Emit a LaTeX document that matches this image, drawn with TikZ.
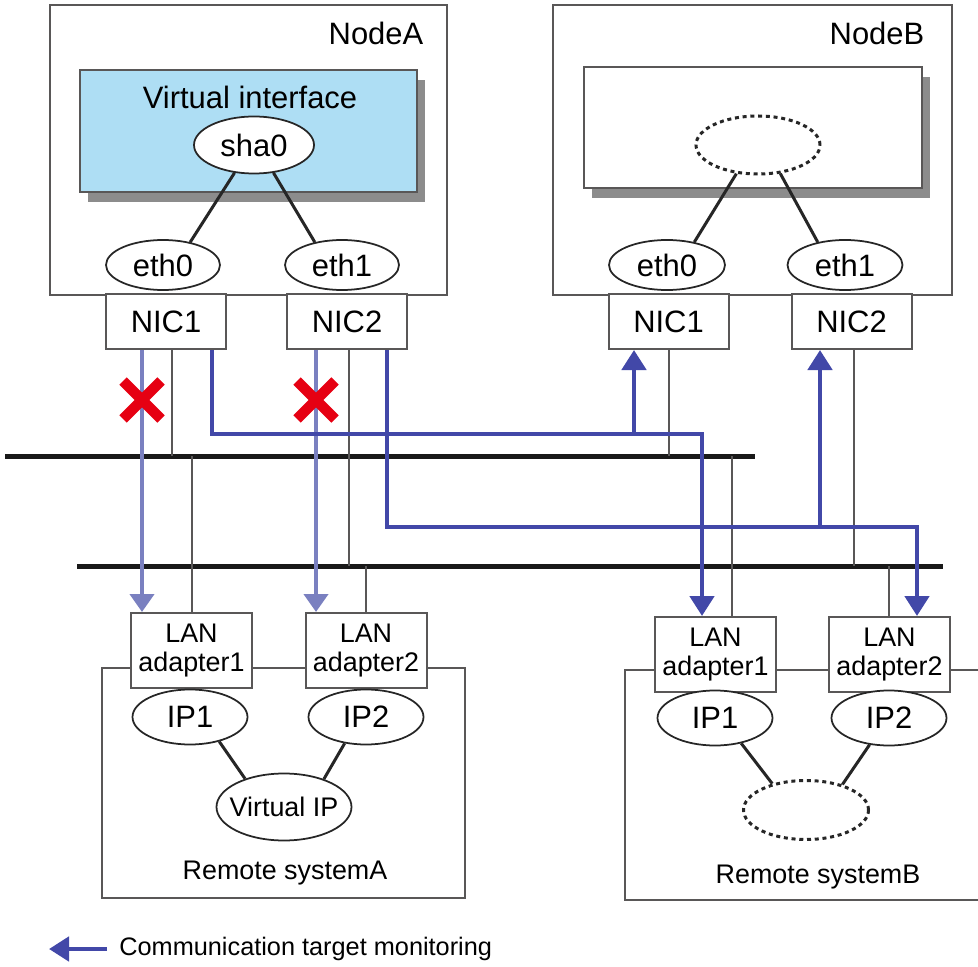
\documentclass[tikz,border=0pt]{standalone}
\usepackage{fontspec}
\setmainfont{Liberation Sans}
\usetikzlibrary{positioning,arrows.meta,shapes.geometric,shadows}

\definecolor{monblue}{RGB}{66,72,168}
\definecolor{failblue}{RGB}{122,128,192}
\definecolor{vifblue}{RGB}{174,222,244}
\definecolor{xred}{RGB}{230,0,18}
\definecolor{edge}{RGB}{89,87,87}

\begin{document}
\begin{tikzpicture}[x=0.2mm,y=-0.2mm,font=\fontsize{17.6}{19}\selectfont,
  box/.style={draw=edge,line width=0.4mm,fill=white,inner sep=0pt},
  shbox/.style={box,drop shadow={shadow xshift=1.6mm,shadow yshift=-2mm,fill=black!45,opacity=1}},
  nic/.style={box,minimum width=24mm,minimum height=11mm},
  lan/.style={box,align=center,minimum width=24.2mm,minimum height=15mm,font=\fontsize{15.3}{16}\selectfont},
  ifc/.style={ellipse,draw=black!85,line width=0.35mm,fill=white,inner sep=0pt,minimum width=23mm,minimum height=10mm},
  vif/.style={ifc,dash pattern=on 0.8mm off 0.75mm,line width=0.6mm},
  small/.style={font=\fontsize{15.3}{16}\selectfont},
  link/.style={draw=black!85,line width=0.6mm},
  bus/.style={draw=black!90,line width=1mm},
  drop/.style={draw=edge,line width=0.4mm},
  mon/.style={draw=monblue,line width=0.95mm,-{Triangle[width=4.8mm,length=4mm]}},
  fail/.style={draw=failblue,line width=0.85mm,-{Triangle[width=4.8mm,length=3.6mm]}},
  xmark/.style={draw=xred,line width=2.1mm}]
\useasboundingbox (0,0) rectangle (978,967);

% nodes
\node[box,minimum width=79.4mm,minimum height=58mm] (nodeA) at (248.5,150) {};
\node[box,minimum width=79.8mm,minimum height=58mm] (nodeB) at (752.5,150) {};
\node (nodeAl) at (376,33) {NodeA};
\node (nodeBl) at (877,33) {NodeB};
\node[shbox,fill=vifblue,minimum width=67.4mm,minimum height=24.4mm] (vifA) at (248.5,131) {};
\node[shbox,minimum width=67.6mm,minimum height=24.2mm] (vifB) at (753,127.5) {};
\node (vifAl) at (250,97) {Virtual interface};
\node[ifc,minimum width=24mm,minimum height=11.4mm] (sha0) at (254,145) {sha0};
\node[vif,minimum width=24.8mm,minimum height=11.6mm] (shaB) at (758,145) {};
\node[ifc,minimum width=22.8mm] (ethA0) at (163,265) {eth0};
\node[ifc,minimum width=22.8mm] (ethA1) at (342,265) {eth1};
\node[ifc,minimum width=23.2mm] (ethB0) at (667,265) {eth0};
\node[ifc,minimum width=23mm] (ethB1) at (845,265) {eth1};
\node[nic] (nicA1) at (166,321.5) {NIC1};
\node[nic] (nicA2) at (347,321.5) {NIC2};
\node[nic] (nicB1) at (668.5,321.5) {NIC1};
\node[nic] (nicB2) at (851.5,321.5) {NIC2};
\draw[link] (sha0.235) -- (ethA0.40);
\draw[link] (sha0.305) -- (ethA1.140);
\draw[link] (shaB.233) -- (ethB0.40);
\draw[link] (shaB.308) -- (ethB1.140);

% networks
\coordinate (busU) at (5,456);  \coordinate (busUe) at (755,456);
\coordinate (busL) at (77,566); \coordinate (busLe) at (943,566);
\foreach \n/\x in {gA1/172,gA2/192,gA3/349,gA4/366,gB1/669,gB2/732,gB3/854,gB4/889,
                   f1/142,f2/316,m1/212,m2/634,m3/702,m4/387,m5/820,m6/917}
  \coordinate (\n) at (\x,0);
\coordinate (h1) at (0,434);
\coordinate (h2) at (0,527);
\coordinate (xy) at (0,400);
\draw[bus] (busU) -- (busUe);
\draw[bus] (busL) -- (busLe);

% remote systems
\node[box,fill=none,minimum width=72.6mm,minimum height=46mm] (remA) at (283.5,783) {};
\coordinate (remB) at (625,670);
\draw[drop] (978,670) -- (remB) |- (978,900);
\node[lan] (lanA1) at (191.5,650.5) {LAN\\adapter1};
\node[lan] (lanA2) at (366,650.5) {LAN\\adapter2};
\node[lan] (lanB1) at (715.5,654.5) {LAN\\adapter1};
\node[lan] (lanB2) at (889.5,654.5) {LAN\\adapter2};
\node[ifc,minimum height=11mm] (ipA1) at (190,717) {IP1};
\node[ifc,minimum height=11mm] (ipA2) at (366,717) {IP2};
\node[ifc,small,minimum width=27mm,minimum height=13.4mm] (vipA) at (284,807) {\makebox[0pt]{Virtual IP}};
\node[ifc,minimum height=11mm] (ipB1) at (715,718) {IP1};
\node[ifc,minimum height=11mm] (ipB2) at (889,718) {IP2};
\node[vif,minimum width=25mm,minimum height=11.8mm] (vipB) at (806,810) {};
\node[small] (remAl) at (285,873) {Remote systemA};
\node[small] (remBl) at (818,877) {Remote systemB};
\draw[link] (ipA1.320) -- (vipA.144);
\draw[link] (ipA2.231) -- (vipA.35);
\draw[link] (ipB1.316) -- (vipB.142);
\draw[link] (ipB2.234) -- (vipB.35);

% cables
\draw[drop] (nicA1.south -| gA1) -- (busU -| gA1);
\draw[drop] (busU -| gA2) -- (lanA1.north -| gA2);
\draw[drop] (nicA2.south -| gA3) -- (busL -| gA3);
\draw[drop] (busL -| gA4) -- (lanA2.north -| gA4);
\draw[drop] (nicB1.south -| gB1) -- (busU -| gB1);
\draw[drop] (busU -| gB2) -- (lanB1.north -| gB2);
\draw[drop] (nicB2.south -| gB3) -- (busL -| gB3);
\draw[drop] (busL -| gB4) -- (lanB2.north -| gB4);

% monitoring
\draw[fail] (nicA1.south -| f1) -- (lanA1.north -| f1);
\draw[fail] (nicA2.south -| f2) -- (lanA2.north -| f2);
\draw[mon] (nicA1.south -| m1) |- (m3 |- h1) -- (lanB1.north -| m3);
\draw[mon] (m2 |- h1) -- (nicB1.south -| m2);
\draw[mon] (nicA2.south -| m4) |- (m6 |- h2) -- (lanB2.north -| m6);
\draw[mon] (m5 |- h2) -- (nicB2.south -| m5);
\draw[xmark] (f1 |- xy) +(-19,-19) -- +(19,19) +(-19,19) -- +(19,-19);
\draw[xmark] (f2 |- xy) +(-19,-19) -- +(19,19) +(-19,19) -- +(19,-19);

% legend
\node[inner sep=0pt,anchor=west,font=\fontsize{14.4}{16}\selectfont] (legt) at (119,949) {Communication target monitoring};
\coordinate (lega) at (49,949);
\draw[mon] ([xshift=-2.4mm]legt.west) -- (lega);
\end{tikzpicture}
\end{document}
